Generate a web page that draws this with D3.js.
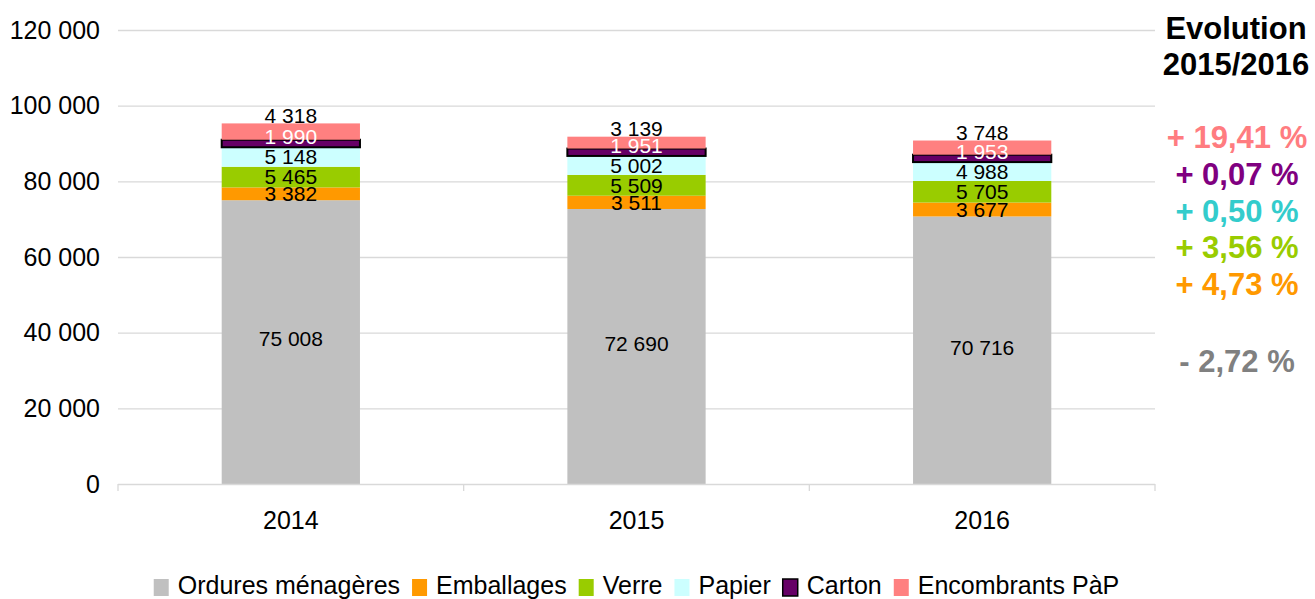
<!DOCTYPE html>
<html>
<head>
<meta charset="utf-8">
<script src="https://cdn.jsdelivr.net/npm/d3@7/dist/d3.min.js"></script>
<style>
  html, body { margin: 0; padding: 0; background: #fff; }
  svg { display: block; font-family: "Liberation Sans", Arial, sans-serif; }
</style>
</head>
<body>
<svg id="chart" width="1315" height="599"></svg>
<script>
// ---- DATA ----
const years = ["2014", "2015", "2016"];
const seriesNames = ["Ordures ménagères", "Emballages", "Verre", "Papier", "Carton", "Encombrants PàP"];
const ordures     = [75008, 72690, 70716];
const emballages  = [3382, 3511, 3677];
const verre       = [5465, 5509, 5705];
const papier      = [5148, 5002, 4988];
const carton      = [1990, 1951, 1953];
const encombrants = [4318, 3139, 3748];
const yTicks = [0, 20000, 40000, 60000, 80000, 100000, 120000];
const evolutionTitle = ["Evolution", "2015/2016"];
const evolutionLabels = ["+ 19,41 %", "+ 0,07 %", "+ 0,50 %", "+ 3,56 %", "+ 4,73 %", "- 2,72 %"];

// ---- STYLE ----
const colors = ["#c0c0c0", "#ff9900", "#99cc00", "#ccffff", "#660066", "#ff8080"];
const evoColors = ["#ff7c80", "#800080", "#33cccc", "#99cc00", "#ff9900", "#808080"];

const seriesValues = [ordures, emballages, verre, papier, carton, encombrants];
const table = years.map((y, i) => {
  const row = { year: y };
  seriesNames.forEach((s, k) => row[s] = seriesValues[k][i]);
  return row;
});

const svg = d3.select("#chart");
const loc = d3.formatLocale({ decimal: ",", thousands: " ", grouping: [3], currency: ["", " €"] });
const fmt = loc.format(",d");

const x = d3.scaleBand().domain(years).range([118, 1155]).paddingInner(0.6).paddingOuter(0.3);
const y = d3.scaleLinear().domain([0, 120000]).range([484, 30]);

// gridlines
svg.append("g").selectAll("line").data(yTicks.filter(d => d > 0)).join("line")
  .attr("x1", 118).attr("x2", 1155)
  .attr("y1", d => y(d) + 0.5).attr("y2", d => y(d) + 0.5)
  .attr("stroke", "#d9d9d9").attr("stroke-width", 1.3);

// y tick labels
svg.append("g").selectAll("text").data(yTicks).join("text")
  .attr("x", 100).attr("y", d => y(d)).attr("dy", "0.35em")
  .attr("text-anchor", "end").attr("font-size", 25).attr("fill", "#000")
  .text(d => fmt(d));

// stacked bars
const stack = d3.stack().keys(seriesNames)(table);
const gBars = svg.append("g");
stack.forEach((layer, k) => {
  gBars.append("g").selectAll("rect").data(layer).join("rect")
    .attr("x", d => x(d.data.year))
    .attr("width", x.bandwidth())
    .attr("y", d => y(d[1]))
    .attr("height", d => y(d[0]) - y(d[1]))
    .attr("fill", colors[k])
    .attr("stroke", seriesNames[k] === "Carton" ? "#000" : "none")
    .attr("stroke-width", seriesNames[k] === "Carton" ? 2 : 0);
});

// x axis
svg.append("line").attr("x1", 118).attr("x2", 1155).attr("y1", 484.5).attr("y2", 484.5)
  .attr("stroke", "#d9d9d9").attr("stroke-width", 1.3);
const boundaries = [118, ...years.map(yr => x(yr) + x.bandwidth() / 2 + x.step() / 2)];
svg.append("g").selectAll("line").data(boundaries).join("line")
  .attr("x1", d => d).attr("x2", d => d).attr("y1", 484).attr("y2", 491)
  .attr("stroke", "#d9d9d9").attr("stroke-width", 1.3);
svg.append("g").selectAll("text").data(years).join("text")
  .attr("x", d => x(d) + x.bandwidth() / 2).attr("y", 529)
  .attr("text-anchor", "middle").attr("font-size", 25).text(d => d);

// data labels
const gLab = svg.append("g").attr("font-size", 21).attr("text-anchor", "middle");
stack.forEach((layer, k) => {
  const name = seriesNames[k];
  gLab.append("g").selectAll("text").data(layer).join("text")
    .attr("x", d => x(d.data.year) + x.bandwidth() / 2)
    .attr("y", d => {
      const mid = (y(d[0]) + y(d[1])) / 2;
      if (name === "Carton") return mid - 7;
      if (name === "Encombrants PàP") return y(d[1]) - 8;
      if (name === "Ordures ménagères") return mid - 3;
      return mid;
    })
    .attr("dy", "0.35em")
    .attr("fill", name === "Carton" ? "#fff" : "#000")
    .text(d => fmt(d[1] - d[0]));
});

// evolution panel
const gEvo = svg.append("g").attr("font-weight", "bold").attr("text-anchor", "middle");
gEvo.selectAll("text.t").data(evolutionTitle).join("text").attr("class", "t")
  .attr("x", 1236).attr("y", (d, i) => 39 + i * 36)
  .attr("font-size", 31).attr("fill", "#000").text(d => d);
const evoY = [148, 185, 222, 258, 295, 372];
gEvo.selectAll("text.p").data(evolutionLabels).join("text").attr("class", "p")
  .attr("x", 1237).attr("y", (d, i) => evoY[i])
  .attr("font-size", 31).attr("fill", (d, i) => evoColors[i]).text(d => d);

// legend
const gLeg = svg.append("g").attr("font-size", 25);
const items = gLeg.selectAll("g").data(seriesNames).join("g");
items.append("rect").attr("width", 15).attr("height", 17).attr("y", 579)
  .attr("fill", (d, i) => colors[i])
  .attr("stroke", d => d === "Carton" ? "#000" : "none").attr("stroke-width", 1.5);
items.append("text").attr("x", 24).attr("y", 594).text(d => d);
let cx = 0;
const offs = [];
items.each(function () {
  const w = d3.select(this).select("text").node().getComputedTextLength();
  offs.push(cx);
  cx += 24 + w + 12;
});
const total = cx - 12;
const start = 636.5 - total / 2;
items.attr("transform", (d, i) => `translate(${start + offs[i]},0)`);
</script>
</body>
</html>
